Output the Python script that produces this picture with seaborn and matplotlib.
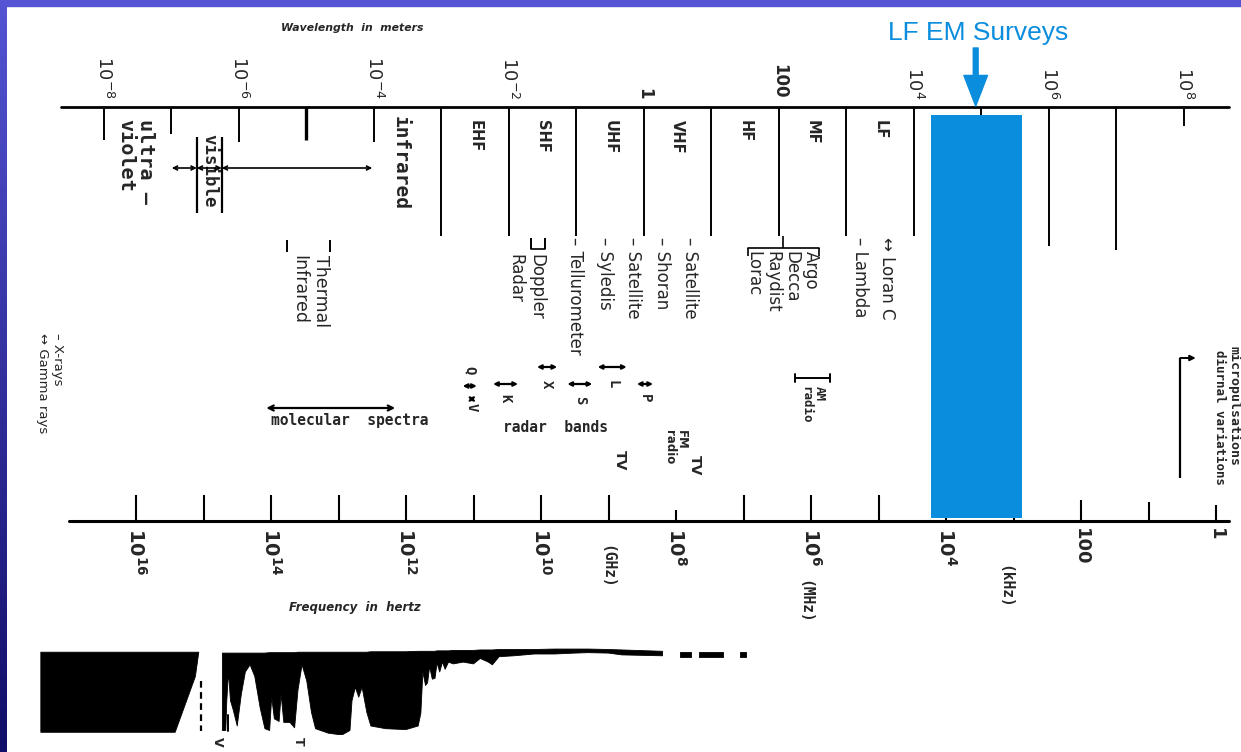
import numpy as np
import matplotlib
matplotlib.use("Agg")
import matplotlib.pyplot as plt
from matplotlib.patches import Rectangle
import seaborn as sns
import pandas as pd

# ---------------- data ----------------
LOG_C = np.log10(2.998e8)          # log10 of speed of light, lambda = c / f

# wavelength axis (exponent of metres)
wl_label_exp = [-8, -6, -4, -2, 0, 2, 4, 6, 8]
wl_label_txt = [r"$10^{-8}$", r"$10^{-6}$", r"$10^{-4}$", r"$10^{-2}$", "1", "100",
                r"$10^{4}$", r"$10^{6}$", r"$10^{8}$"]
wl_line_exp = list(range(-8, 9))

# radio band names between wavelength decades (lower exponent)
band_names = ["EHF", "SHF", "UHF", "VHF", "HF", "MF", "LF"]
band_wl_exp = [-3, -2, -1, 0, 1, 2, 3]

# frequency axis (exponent of hertz)
freq_tick_exp = list(range(16, -1, -1))
freq_label_exp = [16, 14, 12, 10, 8, 6, 4, 2, 0]
freq_label_txt = [r"$\mathbf{10}^{\mathbf{16}}$", r"$\mathbf{10}^{\mathbf{14}}$",
                  r"$\mathbf{10}^{\mathbf{12}}$", r"$\mathbf{10}^{\mathbf{10}}$",
                  r"$\mathbf{10}^{\mathbf{8}}$", r"$\mathbf{10}^{\mathbf{6}}$",
                  r"$\mathbf{10}^{\mathbf{4}}$", "100", "1"]
unit_txt = ["(GHz)", "(MHz)", "(kHz)"]
unit_logf = [9.02, 6.09, 3.13]

# LF EM survey band (Hz)
survey_f_hz = [740, 16500]
survey_arrow_logf = 3.56

# navigation / radio services (log10 Hz)
service_txt = ["– Tellurometer", "– Syledis", "– Satellite", "– Shoran", "– Satellite",
               "– Lambda", "↔ Loran C"]
service_logf = [9.50, 9.05, 8.64, 8.21, 7.79, 5.27, 4.87]

# radar bands: name, low/high log10 Hz
radar_names = ["Q", "V", "K", "X", "S", "L", "P"]
radar_lo = [10.95, 10.97, 10.34, 9.76, 9.24, 8.73, 8.34]
radar_hi = [11.16, 11.08, 10.71, 10.06, 9.61, 9.16, 8.58]

am_band = [5.72, 6.23]
molecular_band = [14.07, 12.16]

# atmospheric absorption silhouette: log10 Hz, upper and lower edge (fraction of strip)
sil_logf = [17.41, 15.42, 15.12, 15.07, np.nan,
            14.72, 14.67, 14.655, 14.63, 14.60, 14.56, 14.50, 14.44, 14.38, 14.31,
            14.24, 14.16, 14.09, 14.02, 13.99, 13.95, 13.88, 13.85, 13.81, 13.72,
            13.65, 13.60, 13.54, 13.47, 13.40, 13.34, 13.15, 12.95, 12.83, 12.80,
            12.75, 12.70, 12.65, 12.58, 12.52, 12.30, 12.00, 11.82, 11.78, 11.75,
            11.71, 11.68, 11.65, 11.61, 11.57, 11.54, 11.50, 11.46, 11.42, 11.37,
            11.30, 11.15, 11.00, 10.90, 10.78, 10.72, 10.62, 10.40, 10.10, 9.80,
            9.50, 9.30, 9.00, 8.80, 8.20, np.nan,
            7.94, 7.78, np.nan, 7.66, 7.31, np.nan, 7.05, 6.96]
sil_top = [0.08, 0.08, 0.08, 0.08, np.nan,
           0.09, 0.09, 0.09, 0.09, 0.09, 0.09, 0.09, 0.09, 0.09, 0.09,
           0.09, 0.09, 0.09, 0.085, 0.085, 0.085, 0.085, 0.085, 0.085, 0.085,
           0.085, 0.08, 0.08, 0.08, 0.08, 0.08, 0.08, 0.08, 0.08, 0.08,
           0.08, 0.08, 0.08, 0.08, 0.075, 0.075, 0.075, 0.07, 0.07, 0.07,
           0.07, 0.07, 0.07, 0.07, 0.07, 0.065, 0.065, 0.065, 0.065, 0.065,
           0.06, 0.06, 0.06, 0.055, 0.055, 0.055, 0.05, 0.05, 0.05, 0.045,
           0.045, 0.045, 0.05, 0.055, 0.07, np.nan,
           0.08, 0.08, np.nan, 0.08, 0.08, np.nan, 0.08, 0.08]
sil_bot = [0.97, 0.97, 0.35, 0.08, np.nan,
           0.95, 0.95, 0.62, 0.30, 0.62, 0.72, 0.90, 0.55, 0.30, 0.22,
           0.35, 0.70, 0.93, 0.95, 0.58, 0.82, 0.85, 0.55, 0.86, 0.86,
           0.92, 0.50, 0.22, 0.40, 0.75, 0.93, 0.98, 1.00, 0.95, 0.62,
           0.47, 0.58, 0.47, 0.75, 0.90, 0.93, 0.94, 0.90, 0.76, 0.30,
           0.45, 0.42, 0.24, 0.38, 0.37, 0.20, 0.30, 0.19, 0.27, 0.19,
           0.21, 0.19, 0.21, 0.15, 0.19, 0.22, 0.13, 0.12, 0.10, 0.10,
           0.09, 0.085, 0.09, 0.11, 0.12, np.nan,
           0.13, 0.13, np.nan, 0.13, 0.13, np.nan, 0.13, 0.13]

# ---------------- style ----------------
sns.set_theme(style="white")
plt.rcParams["font.family"] = ["DejaVu Sans"]
plt.rcParams["mathtext.fontset"] = "dejavusans"

BLUE = "#0a8ddd"
MONO = "DejaVu Sans Mono"
LF0 = 16 + 136 / 67.5
LF1 = 16 - 1105 / 67.5

fig = plt.figure(figsize=(12.41, 7.52), dpi=100)
fig.patch.set_facecolor("white")
ax = fig.add_axes([0, 0, 1, 1])
ax.set_xlim(LF0, LF1)
ax.set_ylim(752, 0)
ax.axis("off")


def vtext(lf, y, s, size, va="top", ha="center", **kw):
    ax.text(lf, y, s, rotation=-90, ha=ha, va=va, fontsize=size,
            multialignment="left", **kw)


def vline(lf, y0, y1, lw=1.4, **kw):
    ax.plot([lf, lf], [y0, y1], color="black", lw=lw, solid_capstyle="butt", **kw)


# ---- wavelength axis ----
axis_df = pd.DataFrame({"logf": [17.11, -0.19], "y": [107, 107]})
sns.lineplot(data=axis_df, x="logf", y="y", color="black", lw=2.0, ax=ax,
             estimator=None, sort=False)
ax.text(12.8, 28, "Wavelength  in  meters", ha="center", va="center",
        fontsize=7.8, fontweight="bold", fontstyle="italic")

wl_line_end = {-8: 140, -7: 134, -6: 142, -5: 140, -4: 142, 5: 118, 6: 246, 7: 250, 8: 126}
for e in wl_line_exp:
    vline(LOG_C - e, 107, wl_line_end.get(e, 236), lw=2.4 if e == -5 else 1.4)
for e, t in zip(wl_label_exp, wl_label_txt):
    vtext(LOG_C - e, 99, t, 13 if "$" in t else 12, va="bottom", fontweight="bold")

for name, e in zip(band_names, band_wl_exp):
    vtext(LOG_C - e - 0.5, 120, name, 10.5, fontweight="bold")

# optical region
vtext(16.0, 119, "ultra –\nviolet", 14.5, family=MONO, fontweight="bold", linespacing=1.05)
vline(15.10, 137, 213, lw=1.6)
vline(14.73, 137, 213, lw=1.6)
vtext(14.92, 134, "visible", 12.5, family=MONO, fontweight="bold")
vtext(12.09, 116, "infrared", 14, family=MONO, fontweight="bold")
for a, b in [(15.47, 15.10), (15.10, 14.73), (14.73, 12.50)]:
    ax.annotate("", xy=(a, 168), xytext=(b, 168),
                arrowprops=dict(arrowstyle="<->", lw=1.2, color="black",
                                mutation_scale=7, shrinkA=0, shrinkB=0))

# ---- services ----
for t, lf in zip(service_txt, service_logf):
    vtext(lf, 237, t, 12)
vtext(10.22, 254, "Doppler\nRadar", 12)
vline(10.15, 238, 249)
vline(9.94, 238, 249)
ax.plot([10.15, 9.94], [249, 249], color="black", lw=1.2)
vtext(6.43, 251, "Argo\nDecca\nRaydist\nLorac", 12, linespacing=1.1)
ax.plot([6.93, 5.88], [248, 248], color="black", lw=1.2)
vline(6.93, 248, 256, lw=1.2)
vline(5.88, 248, 256, lw=1.2)
vline(6.42, 236, 248, lw=1.2)
vtext(13.42, 255, "Thermal\nInfrared", 12.5)
vline(13.76, 240, 252)
vline(13.13, 240, 252)
vtext(17.27, 333, "– X-rays\n↔ Gamma rays", 9.5)

# molecular spectra
ax.annotate("", xy=(molecular_band[0], 408), xytext=(molecular_band[1], 408),
            arrowprops=dict(arrowstyle="<->", lw=1.6, color="black",
                            mutation_scale=9, shrinkA=0, shrinkB=0))
ax.text(12.83, 420, "molecular  spectra", ha="center", va="center",
        family=MONO, fontweight="bold", fontsize=10.5)

# radar bands
radar_y = [386, 399, 384, 367, 384, 367, 384]
radar_ly = [366, 403, 394, 380, 396, 380, 394]
for n, lo, hi, y, ly in zip(radar_names, radar_lo, radar_hi, radar_y, radar_ly):
    ax.annotate("", xy=(lo, y), xytext=(hi, y),
                arrowprops=dict(arrowstyle="<->", lw=1.6, color="black",
                                mutation_scale=6, shrinkA=0, shrinkB=0))
    vtext((lo + hi) / 2, ly, n, 10, family=MONO, fontweight="bold")
ax.text(9.79, 428, "radar  bands", ha="center", va="center", family=MONO,
        fontweight="bold", fontsize=10.5)

# TV / FM / AM
vtext(8.83, 450, "TV", 10, fontweight="bold")
vtext(8.01, 430, "FM\nradio", 8.5, fontweight="bold", linespacing=0.9)
vtext(7.72, 455, "TV", 10, fontweight="bold")
ax.annotate("", xy=(am_band[0], 378), xytext=(am_band[1], 378),
            arrowprops=dict(arrowstyle="|-|", lw=1.4, color="black",
                            mutation_scale=3, shrinkA=0, shrinkB=0))
vtext(sum(am_band) / 2, 386, "AM\nradio", 9, family=MONO, fontweight="bold",
      linespacing=1.0)

# micropulsations
vline(0.53, 358, 478, lw=1.6)
ax.annotate("", xy=(0.30, 358), xytext=(0.53, 358),
            arrowprops=dict(arrowstyle="-|>", lw=1.4, color="black",
                            mutation_scale=8, shrinkA=0, shrinkB=0))
vtext(-0.26, 346, "micropulsations", 9.5, family=MONO, fontweight="bold")
vtext(-0.05, 350, "diurnal variations", 9, family=MONO, fontweight="bold")

# ---- frequency axis ----
axis_df2 = pd.DataFrame({"logf": [16.99, -0.19], "y": [521, 521]})
sns.lineplot(data=axis_df2, x="logf", y="y", color="black", lw=2.2, ax=ax,
             estimator=None, sort=False)
tick_top = {8: 510, 3: 498, 2: 500, 1: 502, 0: 505}
for k in freq_tick_exp:
    vline(k, tick_top.get(k, 495), 521, lw=1.5)
for k, t in zip(freq_label_exp, freq_label_txt):
    vtext(k, 528, t, 14 if "$" in t else 13, fontweight="bold")
for t, lf, y in zip(unit_txt, unit_logf, [545, 580, 565]):
    vtext(lf, y, t, 10.5, family=MONO, fontweight="bold")
ax.text(12.76, 607, "Frequency  in  hertz", ha="center", va="center",
        fontsize=8.5, fontweight="bold", fontstyle="italic")

# ---- LF EM survey band ----
s_lo, s_hi = np.log10(survey_f_hz[0]), np.log10(survey_f_hz[1])
ax.fill_betweenx([115, 518], s_hi, s_lo, color=BLUE, lw=0, zorder=5)
ax.annotate("", xy=(survey_arrow_logf, 106), xytext=(survey_arrow_logf, 48),
            arrowprops=dict(width=3.5, headwidth=17, headlength=22, color=BLUE,
                            shrink=0), zorder=6)
ax.text(3.53, 33, "LF EM Surveys", ha="center", va="center", color=BLUE,
        fontsize=19, family="Liberation Sans")

# ---- atmospheric silhouette ----
axs = fig.add_axes([0, 1 - 735 / 752, 1, 90 / 752])
axs.set_xlim(LF0, LF1)
axs.set_ylim(1, 0)
axs.axis("off")
sil = pd.DataFrame({"logf": sil_logf, "top": sil_top, "bot": sil_bot})
axs.fill_between(sil["logf"], sil["top"], sil["bot"], color="black", lw=0.6,
                 edgecolor="black")
axs.plot([15.04, 15.04], [0.40, 0.95], color="black", lw=1.6, ls=(0, (3, 2)))
axs.plot([14.64, 14.64], [0.78, 0.95], color="black", lw=1.4)
vtext(14.80, 737, "V", 9, fontweight="bold")
vtext(13.60, 737, "T", 9, fontweight="bold")

# ---- slide border ----
grad = np.linspace(np.array([84, 84, 212]), np.array([16, 14, 104]), 256) / 255
axl = fig.add_axes([0, 0, 7 / 1241, 1])
axl.imshow(grad[:, None, :], aspect="auto", extent=[0, 1, 0, 1])
axl.axis("off")
fig.patches.append(Rectangle((0, 1 - 6 / 752), 1, 6 / 752, transform=fig.transFigure,
                             color="#5454d4", zorder=10))

fig.savefig("out.png", dpi=100)
